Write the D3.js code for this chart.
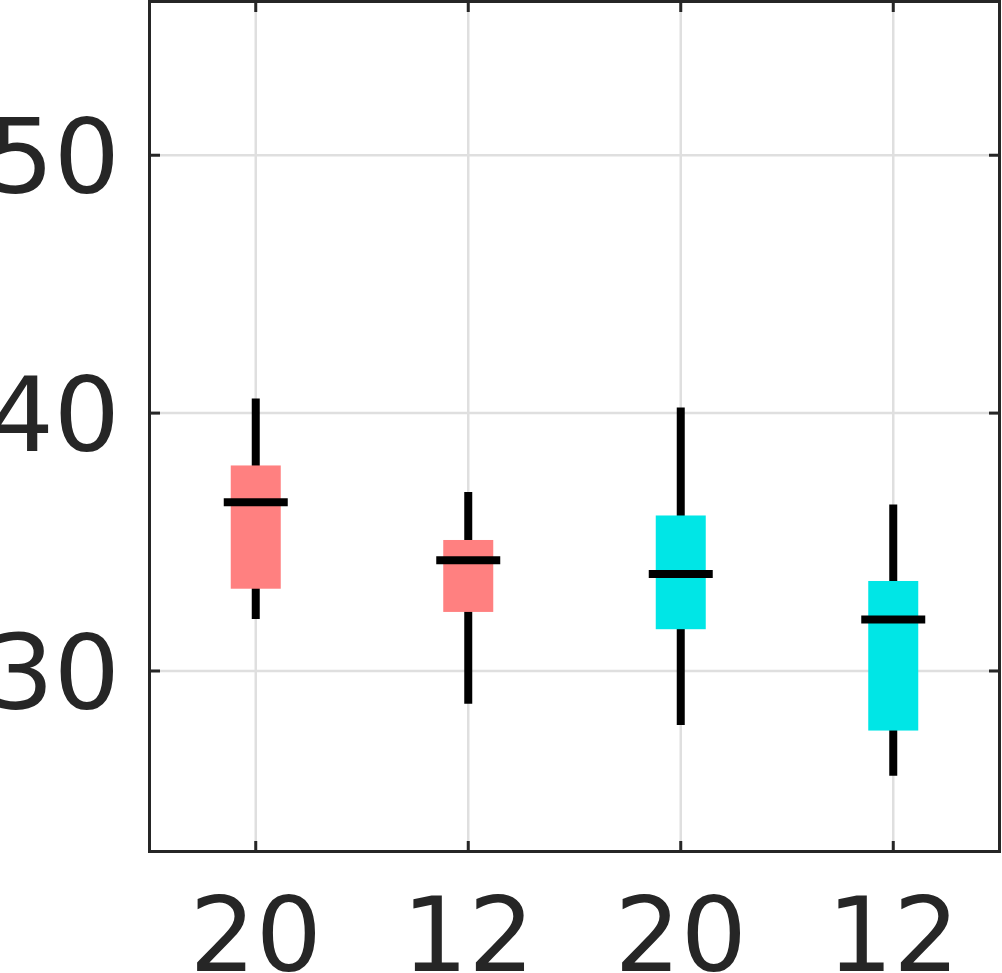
<!DOCTYPE html>
<html>
<head>
<meta charset="utf-8">
<script src="https://cdn.jsdelivr.net/npm/d3@7"></script>
<style>
  html, body { margin: 0; padding: 0; background: #fff; }
  svg { display: block; }
</style>
</head>
<body>
<svg id="chart" width="1002" height="973"></svg>
<script>
// ---- data ----
const categories = ["20", "12", "20", "12"];
const groups = ["A", "A", "B", "B"];
const whiskerLow  = [32.02, 28.73, 27.91, 25.94];
const boxLow      = [33.19, 32.29, 31.62, 27.69];
const medians     = [36.54, 34.29, 33.76, 32.00];
const boxHigh     = [37.97, 35.08, 36.03, 33.49];
const whiskerHigh = [40.57, 36.94, 40.22, 36.46];
const yTicks = [30, 40, 50];
const groupColors = { A: "#ff8080", B: "#00e6e6" };

(function () {
// ---- layout ----
const pLeft = 149.5, pRight = 999.5, pTop = 1.5, pBottom = 851.5;
const axisColor = "#262626";
const fontSize = 104;

const svg = d3.select("#chart");

const x = d3.scaleBand().domain(d3.range(categories.length)).range([pLeft, pRight]).padding(0);
const y = d3.scaleLinear().domain([23, 56]).range([pBottom, pTop - 1]);
const cx = i => x(i) + x.bandwidth() / 2;

// gridlines
const grid = svg.append("g").attr("stroke", "#dfdfdf").attr("stroke-width", 2.5);
grid.selectAll("line.gx").data(d3.range(categories.length)).join("line")
  .attr("x1", cx).attr("x2", cx).attr("y1", pTop).attr("y2", pBottom);
grid.selectAll("line.gy").data(yTicks).join("line")
  .attr("x1", pLeft).attr("x2", pRight).attr("y1", d => y(d)).attr("y2", d => y(d));

const idx = d3.range(categories.length);
const boxW = 50, medW = 64, whiskerW = 8, medT = 8;

// whiskers
svg.append("g").selectAll("line").data(idx).join("line")
  .attr("x1", cx).attr("x2", cx)
  .attr("y1", i => y(whiskerLow[i])).attr("y2", i => y(whiskerHigh[i]))
  .attr("stroke", "#000").attr("stroke-width", whiskerW);

// boxes
svg.append("g").selectAll("rect").data(idx).join("rect")
  .attr("x", i => cx(i) - boxW / 2).attr("width", boxW)
  .attr("y", i => y(boxHigh[i])).attr("height", i => y(boxLow[i]) - y(boxHigh[i]))
  .attr("fill", i => groupColors[groups[i]]);

// medians
svg.append("g").selectAll("line").data(idx).join("line")
  .attr("x1", i => cx(i) - medW / 2).attr("x2", i => cx(i) + medW / 2)
  .attr("y1", i => y(medians[i])).attr("y2", i => y(medians[i]))
  .attr("stroke", "#000").attr("stroke-width", medT);

// axes frame
const frame = svg.append("g").attr("stroke", axisColor).attr("stroke-width", 3).attr("fill", "none");
frame.append("rect").attr("x", pLeft).attr("y", pTop).attr("width", pRight - pLeft).attr("height", pBottom - pTop);
const tl = 10.5;
frame.selectAll("line.tb").data(idx).join("line")
  .attr("x1", cx).attr("x2", cx).attr("y1", pBottom).attr("y2", pBottom - tl);
frame.selectAll("line.tt").data(idx).join("line")
  .attr("x1", cx).attr("x2", cx).attr("y1", pTop).attr("y2", pTop + tl);
frame.selectAll("line.tl").data(yTicks).join("line")
  .attr("x1", pLeft).attr("x2", pLeft + tl).attr("y1", d => y(d)).attr("y2", d => y(d));
frame.selectAll("line.tr").data(yTicks).join("line")
  .attr("x1", pRight).attr("x2", pRight - tl).attr("y1", d => y(d)).attr("y2", d => y(d));

// tick labels
const font = "'DejaVu Sans', sans-serif";
svg.append("g").selectAll("text").data(yTicks).join("text")
  .attr("x", 120).attr("y", d => y(d)).attr("dy", "0.365em")
  .attr("text-anchor", "end")
  .attr("font-family", font).attr("font-size", fontSize).attr("fill", axisColor)
  .text(d => d);
svg.append("g").selectAll("text").data(idx).join("text")
  .attr("x", cx).attr("y", 971)
  .attr("text-anchor", "middle")
  .attr("font-family", font).attr("font-size", fontSize).attr("fill", axisColor)
  .text(i => categories[i]);
})();
</script>
</body>
</html>
